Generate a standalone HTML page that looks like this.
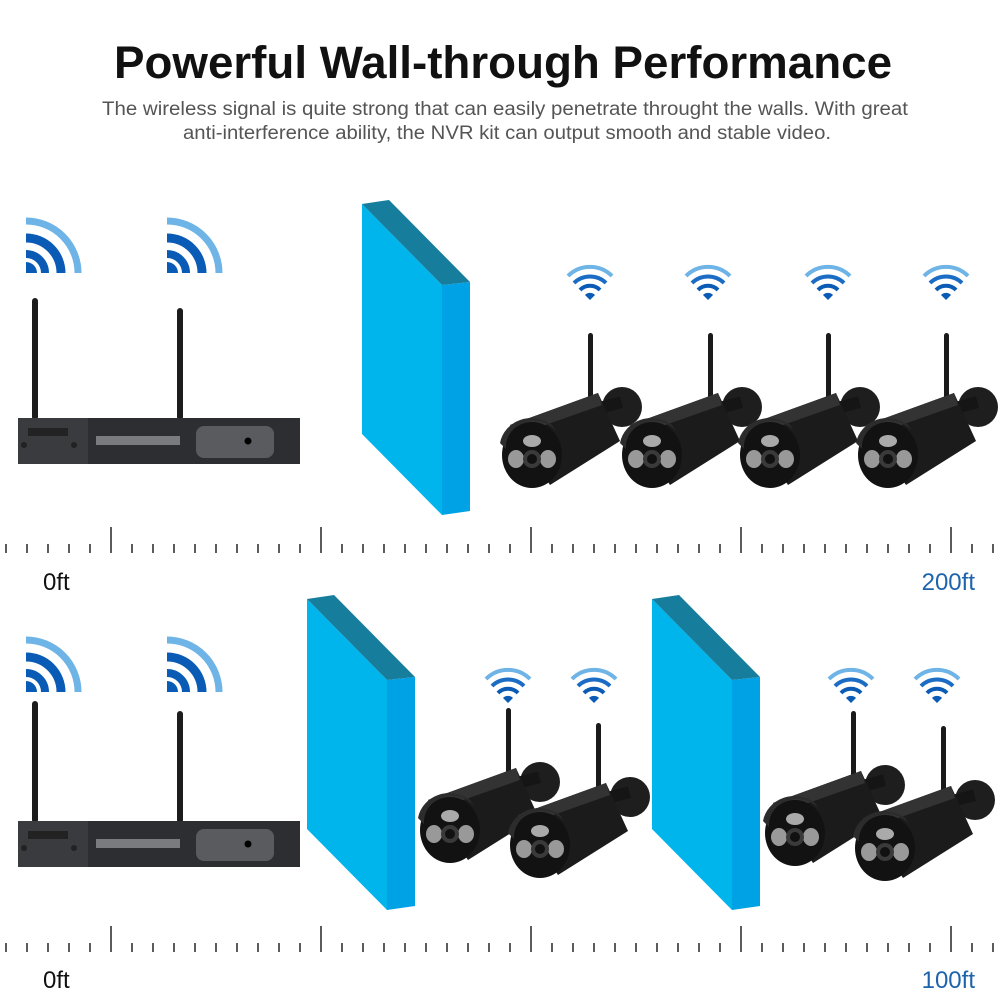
<!DOCTYPE html>
<html><head><meta charset="utf-8"><style>
html,body{margin:0;padding:0;background:#fff}
svg{display:block}
</style></head><body>
<svg width="1000" height="1000" viewBox="0 0 1000 1000" xmlns="http://www.w3.org/2000/svg" font-family="Liberation Sans, sans-serif">
<defs>
  <g id="bigwifi">
    <path d="M0,0 L0,-11 A11,11 0 0 1 11,0 Z" fill="#0a5bb5"/>
    <path d="M0,-19 A19,19 0 0 1 19,0" fill="none" stroke="#0a5bb5" stroke-width="8"/>
    <path d="M0,-35 A35,35 0 0 1 35,0" fill="none" stroke="#0a5bb5" stroke-width="9"/>
    <path d="M0,-52 A52,52 0 0 1 52,0" fill="none" stroke="#6fb4e6" stroke-width="7"/>
  </g>
  <g id="smwifi">
    <path d="M0,0 L-5,-5 A7,7 0 0 1 5,-5 Z" fill="#0a5bb5"/>
    <path d="M-10,-10 A14,14 0 0 1 10,-10" fill="none" stroke="#0a5bb5" stroke-width="4"/>
    <path d="M-16,-17 A23,23 0 0 1 16,-17" fill="none" stroke="#1a6cc4" stroke-width="4"/>
    <path d="M-22,-24 A31,31 0 0 1 22,-24" fill="none" stroke="#6fb4e6" stroke-width="4"/>
  </g>
  <g id="wall">
    <polygon points="0,4 80,85 80,315 0,234" fill="#00b4ec"/>
    <polygon points="80,85 108,82 108,311 80,315" fill="#00a2e6"/>
    <polygon points="0,4 27,0 108,82 80,85" fill="#177d9c"/>
  </g>
  <g id="nvr">
    <rect x="14" y="-120" width="6" height="122" rx="3" fill="#1c1c1c"/>
    <rect x="159" y="-110" width="6" height="112" rx="3" fill="#1c1c1c"/>
    <rect x="0" y="0" width="282" height="46" fill="#3a3b3e"/>
    <rect x="70" y="0" width="212" height="46" fill="#2d2e31"/>
    <rect x="78" y="18" width="84" height="9" fill="#7a7b7e"/>
    <rect x="178" y="8" width="78" height="32" rx="8" fill="#5a5b5e"/>
    <circle cx="230" cy="23" r="3.5" fill="#000"/>
    <rect x="10" y="10" width="40" height="8" fill="#222"/>
    <circle cx="6" cy="27" r="3" fill="#222"/>
    <circle cx="56" cy="27" r="3" fill="#222"/>
  </g>
  <g id="cam">
    <rect x="56" y="-122" width="5" height="85" rx="2.5" fill="#1a1a1a"/>
    <circle cx="90" cy="-48" r="20" fill="#1e1e1e"/>
    <rect x="60" y="-55" width="30" height="12" fill="#151515" transform="rotate(-15 75 -49)"/>
    <polygon points="-22,-30 66,-62 88,-14 18,30" fill="#1b1b1b"/>
    <polygon points="-22,-30 66,-62 70,-50 -15,-20" fill="#333"/>
    <ellipse cx="0" cy="0" rx="30" ry="33" fill="#121212"/>
    <path d="M-32,-12 A32,30 0 0 1 20,-30 L24,-24 A28,26 0 0 0 -26,-6 Z" fill="#2c2c2c"/>
    <ellipse cx="0" cy="-14" rx="9" ry="6" fill="#aaa"/>
    <ellipse cx="-16" cy="4" rx="8" ry="9" fill="#999"/>
    <ellipse cx="16" cy="4" rx="8" ry="9" fill="#999"/>
    <circle cx="0" cy="4" r="9" fill="#3a3a3a"/>
    <circle cx="0" cy="4" r="5" fill="#111"/>
  </g>
  <g id="ruler">
    <path d="M6,17v9 M27,17v9 M48,17v9 M69,17v9 M90,17v9 M132,17v9 M153,17v9 M174,17v9 M195,17v9 M216,17v9 M237,17v9 M258,17v9 M279,17v9 M300,17v9 M342,17v9 M363,17v9 M384,17v9 M405,17v9 M426,17v9 M447,17v9 M468,17v9 M489,17v9 M510,17v9 M552,17v9 M573,17v9 M594,17v9 M615,17v9 M636,17v9 M657,17v9 M678,17v9 M699,17v9 M720,17v9 M762,17v9 M783,17v9 M804,17v9 M825,17v9 M846,17v9 M867,17v9 M888,17v9 M909,17v9 M930,17v9 M972,17v9 M993,17v9" stroke="#333" stroke-width="1.6"/>
    <path d="M111,0v26 M321,0v26 M531,0v26 M741,0v26 M951,0v26" stroke="#333" stroke-width="1.6"/>
  </g>
</defs>

<text x="503" y="78" text-anchor="middle" font-size="45" font-weight="bold" fill="#111" textLength="778" lengthAdjust="spacingAndGlyphs">Powerful Wall-through Performance</text>
<text x="102" y="115" font-size="19" fill="#555" textLength="806" lengthAdjust="spacingAndGlyphs">The wireless signal is quite strong that can easily penetrate throught the walls.  With great</text>
<text x="183" y="139" font-size="19" fill="#555" textLength="648" lengthAdjust="spacingAndGlyphs">anti-interference ability, the NVR kit can output smooth and stable video.</text>

<use href="#bigwifi" x="26" y="273"/>
<use href="#bigwifi" x="167" y="273"/>
<use href="#nvr" x="18" y="418"/>
<use href="#wall" x="362" y="200"/>
<use href="#smwifi" x="590" y="300"/>
<use href="#smwifi" x="708" y="300"/>
<use href="#smwifi" x="828" y="300"/>
<use href="#smwifi" x="946" y="300"/>
<use href="#cam" x="532" y="455"/>
<use href="#cam" x="652" y="455"/>
<use href="#cam" x="770" y="455"/>
<use href="#cam" x="888" y="455"/>
<use href="#ruler" x="0" y="527"/>
<text x="43" y="590" font-size="24" fill="#111">0ft</text>
<text x="975" y="590" text-anchor="end" font-size="24" fill="#1e64ad">200ft</text>

<use href="#bigwifi" x="26" y="692"/>
<use href="#bigwifi" x="167" y="692"/>
<use href="#nvr" x="18" y="821"/>
<use href="#wall" x="307" y="595"/>
<use href="#wall" x="652" y="595"/>
<use href="#smwifi" x="508" y="703"/>
<use href="#smwifi" x="594" y="703"/>
<use href="#smwifi" x="851" y="703"/>
<use href="#smwifi" x="937" y="703"/>
<use href="#cam" x="450" y="830"/>
<use href="#cam" x="540" y="845"/>
<use href="#cam" x="795" y="833"/>
<use href="#cam" x="885" y="848"/>
<use href="#ruler" x="0" y="926"/>
<text x="43" y="988" font-size="24" fill="#111">0ft</text>
<text x="975" y="988" text-anchor="end" font-size="24" fill="#1e64ad">100ft</text>
</svg>
</body></html>
